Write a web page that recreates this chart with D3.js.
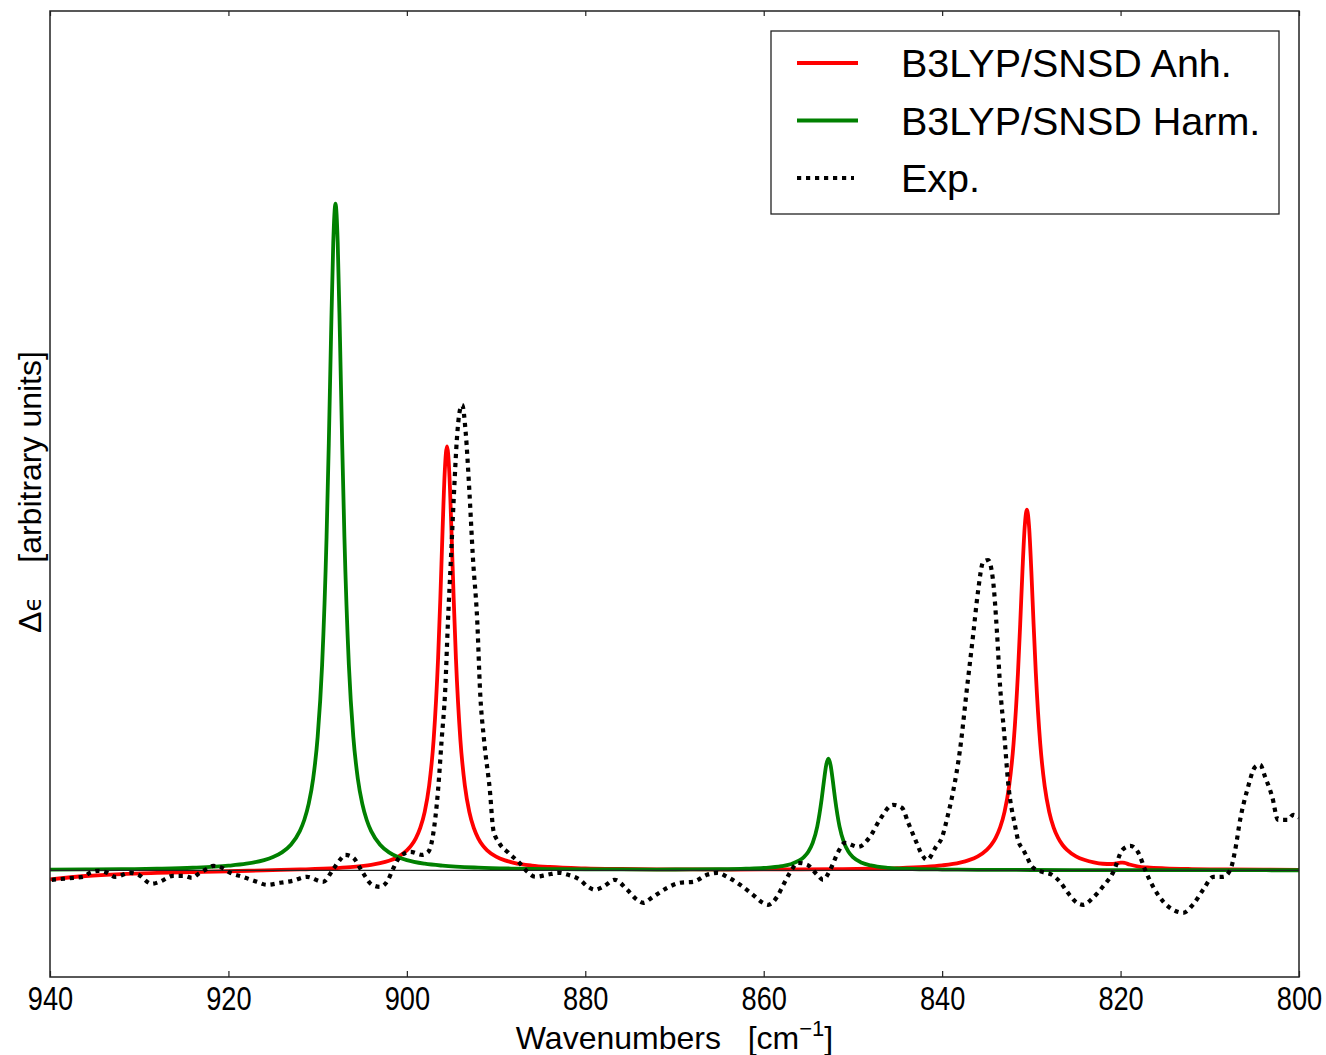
<!DOCTYPE html>
<html>
<head>
<meta charset="utf-8">
<script src="https://cdnjs.cloudflare.com/ajax/libs/d3/7.8.5/d3.min.js"></script>
<style>
body { margin: 0; background: #fff; }
svg { display: block; font-family: "Liberation Sans", Arial, Helvetica, sans-serif; }
</style>
</head>
<body>
<script>

/***** spectra (wavenumber in cm-1, delta eps in arbitrary units) *****/

// B3LYP/SNSD anharmonic
var anhWn = [940, 936, 932, 928, 924, 920, 916, 912, 908, 906, 904, 903,
    902, 901, 900, 899.5, 899, 898.5, 898, 897.5, 897, 896.5, 896.25, 896,
    895.75, 895.5, 895.25, 895, 894.75, 894.5, 894, 893.5, 893, 892.5, 892, 891.5,
    891, 890, 889, 888, 886, 884, 880, 876, 872, 868, 864, 860,
    856, 852, 848, 845, 842, 840, 838, 837, 836, 835, 834.5, 834,
    833.5, 833, 832.5, 832, 831.5, 831.25, 831, 830.75, 830.5, 830.25, 830, 829.75,
    829.5, 829, 828.5, 828, 827.5, 827, 826.5, 826, 825, 824, 823, 822,
    821, 820.5, 820, 819.75, 819.5, 819, 818, 817, 815, 812, 808, 804, 800];
var anhVal = [-0.0135, -0.0085, -0.0056, -0.0039, -0.0026, -0.0014, 0.0000, 0.0013, 0.0033, 0.0051, 0.0082, 0.0107,
    0.0143, 0.0200, 0.0299, 0.0374, 0.0480, 0.0636, 0.0877, 0.1272, 0.1957, 0.3180, 0.4070, 0.5088,
    0.5986, 0.6360, 0.5986, 0.5088, 0.4070, 0.3180, 0.1957, 0.1272, 0.0877, 0.0636, 0.0480, 0.0374,
    0.0300, 0.0206, 0.0149, 0.0113, 0.0072, 0.0050, 0.0029, 0.0020, 0.0015, 0.0013, 0.0012, 0.0013,
    0.0014, 0.0018, 0.0024, 0.0033, 0.0051, 0.0074, 0.0116, 0.0153, 0.0210, 0.0307, 0.0382, 0.0488,
    0.0643, 0.0880, 0.1258, 0.1894, 0.2964, 0.3695, 0.4484, 0.5144, 0.5410, 0.5144, 0.4484, 0.3693,
    0.2962, 0.1892, 0.1256, 0.0878, 0.0641, 0.0486, 0.0380, 0.0307, 0.0210, 0.0154, 0.0119, 0.0099,
    0.0095, 0.0103, 0.0115, 0.0116, 0.0110, 0.0087, 0.0057, 0.0043, 0.0029, 0.0019, 0.0013, 0.0009, 0.0007];

// B3LYP/SNSD harmonic
var harmWn = [940, 936, 932, 928, 924, 920, 918, 916, 915, 914, 913, 912,
    911.5, 911, 910.5, 910, 909.5, 909, 908.75, 908.5, 908.25, 908, 907.75, 907.5,
    907.25, 907, 906.5, 906, 905.5, 905, 904.5, 904, 903, 902, 901, 900,
    898, 896, 892, 888, 884, 880, 876, 872, 868, 865, 862, 860,
    858, 857, 856, 855.5, 855, 854.5, 854, 853.5, 853.25, 853, 852.75, 852.5,
    852.25, 852, 851.5, 851, 850.5, 850, 849, 848, 846, 844, 840, 836,
    830, 824, 816, 808, 800];
var harmVal = [0.0010, 0.0013, 0.0017, 0.0025, 0.0039, 0.0069, 0.0099, 0.0154, 0.0200, 0.0270, 0.0385, 0.0588,
    0.0755, 0.1000, 0.1379, 0.2000, 0.3077, 0.5000, 0.6400, 0.8000, 0.9412, 1.0000, 0.9412, 0.8000,
    0.6400, 0.5000, 0.3077, 0.2000, 0.1379, 0.1000, 0.0755, 0.0588, 0.0385, 0.0270, 0.0200, 0.0154,
    0.0100, 0.0070, 0.0040, 0.0026, 0.0019, 0.0015, 0.0013, 0.0012, 0.0013, 0.0016, 0.0024, 0.0035,
    0.0062, 0.0092, 0.0148, 0.0199, 0.0279, 0.0415, 0.0656, 0.1073, 0.1340, 0.1576, 0.1674, 0.1575,
    0.1339, 0.1072, 0.0655, 0.0414, 0.0278, 0.0198, 0.0114, 0.0074, 0.0038, 0.0024, 0.0012, 0.0008,
    0.0005, 0.0003, 0.0002, 0.0002, 0.0001];

// experiment
var expWn = [939.8, 937.4, 936.3, 935.5, 934.6, 933.6, 932.7, 931.0, 930.1, 928.6, 927.7, 926.2,
    925.1, 924.1, 923.2, 922.4, 921.7, 920.7, 919.8, 918.4, 916.8, 915.7, 914.2, 912.8,
    911.2, 909.4, 908.3, 907.5, 906.9, 906.0, 905.0, 903.9, 903.0, 902.1, 901.6, 900.7,
    899.6, 898.3, 897.6, 897.1, 896.5, 896.1, 895.7, 895.4, 895.05, 894.7, 894.4, 894.05,
    893.8, 893.4, 893.0, 892.6, 892.1, 891.8, 891.35, 890.7, 890.3, 889.7, 888.6, 887.3,
    886.5, 885.6, 884.3, 883.0, 881.9, 880.6, 879.7, 878.9, 878.0, 876.7, 875.3, 874.2,
    873.5, 872.4, 870.8, 869.4, 867.9, 866.35, 865.2, 864.1, 862.65, 861.2, 860.1, 859.5,
    858.5, 857.8, 857.0, 856.15, 855.1, 854.0, 853.35, 852.55, 851.65, 850.9, 849.4, 848.1,
    847.0, 845.5, 844.5, 843.8, 843.0, 842.25, 841.7, 840.7, 840.0, 839.4, 838.8, 838.0,
    837.2, 836.5, 836.0, 835.4, 834.85, 834.3, 833.85, 833.5, 833.05, 832.6, 831.8, 831.5,
    830.9, 830.5, 829.9, 828.8, 827.7, 826.8, 825.9, 824.9, 824.2, 823.1, 822.0, 820.8,
    819.8, 818.9, 818.0, 817.25, 816.35, 815.2, 814.1, 813.0, 811.9, 810.75, 809.6, 808.5,
    807.7, 807.15, 806.6, 805.8, 804.9, 804.35, 803.8, 803.0, 802.35, 801.3, 800.65, 800.0];
var expVal = [-0.0142, -0.0112, -0.0097, -0.0037, -0.0007, -0.0037, -0.0097, -0.0037, -0.0067, -0.0202, -0.0172, -0.0082,
    -0.0082, -0.0112, -0.0037, 0.0022, 0.0067, 0.0037, -0.0037, -0.0097, -0.0172, -0.0217, -0.0187, -0.0157,
    -0.0097, -0.0172, 0.0007, 0.0157, 0.0232, 0.0187, -0.0022, -0.0217, -0.0247, -0.0142, 0.0007, 0.0215,
    0.0277, 0.0232, 0.0277, 0.0502, 0.1207, 0.1957, 0.2706, 0.3711, 0.4700, 0.5705, 0.6455, 0.6904,
    0.6979, 0.6559, 0.5705, 0.4700, 0.3711, 0.2706, 0.1957, 0.1207, 0.0600, 0.0420, 0.0262, 0.0100,
    -0.0022, -0.0097, -0.0067, -0.0037, -0.0067, -0.0142, -0.0247, -0.0292, -0.0247, -0.0142, -0.0292, -0.0442,
    -0.0487, -0.0397, -0.0262, -0.0187, -0.0172, -0.0067, -0.0037, -0.0097, -0.0217, -0.0367, -0.0487, -0.0517,
    -0.0397, -0.0217, -0.0022, 0.0112, 0.0082, -0.0067, -0.0142, 0.0007, 0.0277, 0.0412, 0.0352, 0.0502,
    0.0757, 0.0982, 0.0937, 0.0712, 0.0457, 0.0232, 0.0157, 0.0350, 0.0502, 0.0802, 0.1162, 0.1806,
    0.2751, 0.3561, 0.4160, 0.4625, 0.4655, 0.4355, 0.3561, 0.2751, 0.2061, 0.1312, 0.0652, 0.0457,
    0.0307, 0.0202, 0.0052, -0.0022, -0.0067, -0.0172, -0.0337, -0.0487, -0.0517, -0.0412, -0.0247, -0.0022,
    0.0307, 0.0367, 0.0262, 0.0007, -0.0247, -0.0472, -0.0592, -0.0637, -0.0517, -0.0292, -0.0097, -0.0097,
    0.0007, 0.0307, 0.0757, 0.1207, 0.1552, 0.1582, 0.1402, 0.1102, 0.0757, 0.0757, 0.0832, 0.0790];

var xTicks = [940, 920, 900, 880, 860, 840, 820, 800];
var seriesNames = ["B3LYP/SNSD Anh.", "B3LYP/SNSD Harm.", "Exp."];
var seriesColors = ["#ff0000", "#008000", "#000000"];

/*************************************************/

var width = 1326,
    height = 1055,
    plotLeft = 50,
    plotRight = 1299,
    plotTop = 11,
    plotBottom = 977,
    lineW = 3.8,
    dotW = 4.2,
    dots = "4.2 4.8";

var x = d3.scaleLinear()
    .domain([940, 800])
    .range([plotLeft, plotRight]);

var y = d3.scaleLinear()
    .domain([-0.16, 1.289])
    .range([plotBottom, plotTop]);

var svg = d3.select("body").append("svg")
    .attr("width", width)
    .attr("height", height);

svg.append("clipPath")
    .attr("id", "plotClip")
    .append("rect")
    .attr("x", plotLeft)
    .attr("y", plotTop)
    .attr("width", plotRight - plotLeft)
    .attr("height", plotBottom - plotTop);

// helper: zip two arrays into points
function zip(a, b) {
    return a.map(function (d, i) { return [d, b[i]]; });
}

var line = d3.line()
    .x(function (d) { return x(d[0]); })
    .y(function (d) { return y(d[1]); })
    .curve(d3.curveMonotoneX);

var plot = svg.append("g").attr("clip-path", "url(#plotClip)");

plot.append("path")
    .datum(zip(anhWn, anhVal))
    .attr("d", line)
    .attr("fill", "none")
    .attr("stroke", seriesColors[0])
    .attr("stroke-width", lineW)
    .attr("stroke-linejoin", "round");

plot.append("path")
    .datum(zip(harmWn, harmVal))
    .attr("d", line)
    .attr("fill", "none")
    .attr("stroke", seriesColors[1])
    .attr("stroke-width", lineW)
    .attr("stroke-linejoin", "round");

// zero line
plot.append("line")
    .attr("x1", plotLeft)
    .attr("x2", plotRight)
    .attr("y1", y(0))
    .attr("y2", y(0))
    .attr("stroke", "#222")
    .attr("stroke-width", 1.3);

plot.append("path")
    .datum(zip(expWn, expVal))
    .attr("d", line)
    .attr("fill", "none")
    .attr("stroke", seriesColors[2])
    .attr("stroke-width", dotW)
    .attr("stroke-dasharray", dots);

// axes: ticks pointing inward on bottom and top, no y ticks
var xAxis = d3.axisBottom(x)
    .tickValues(xTicks)
    .tickSizeInner(-6)
    .tickSizeOuter(0)
    .tickFormat(d3.format("d"));

var gx = svg.append("g")
    .attr("transform", "translate(0," + plotBottom + ")")
    .call(xAxis);
gx.select(".domain").remove();
gx.selectAll(".tick line").attr("stroke", "#222").attr("stroke-width", 1.2);
gx.selectAll(".tick text")
    .attr("y", 33)
    .attr("dy", null)
    .attr("fill", "#000")
    .attr("font-size", 34)
    .attr("font-family", "'Liberation Sans', Arial, sans-serif")
    .attr("transform", "scale(0.8,1)");

var gxTop = svg.append("g")
    .attr("transform", "translate(0," + plotTop + ")")
    .call(d3.axisTop(x).tickValues(xTicks).tickSizeInner(-5).tickSizeOuter(0).tickFormat(""));
gxTop.select(".domain").remove();
gxTop.selectAll(".tick line").attr("stroke", "#222").attr("stroke-width", 1.2);

// frame
svg.append("rect")
    .attr("x", plotLeft)
    .attr("y", plotTop)
    .attr("width", plotRight - plotLeft)
    .attr("height", plotBottom - plotTop)
    .attr("fill", "none")
    .attr("stroke", "#222")
    .attr("stroke-width", 1.5);

// axis titles
var xt = svg.append("text")
    .attr("x", (plotLeft + plotRight) / 2)
    .attr("y", 1049)
    .attr("text-anchor", "middle")
    .attr("font-size", 32);
xt.append("tspan").text("Wavenumbers\u00a0\u00a0\u00a0[cm");
xt.append("tspan").attr("font-size", 22).attr("dy", -13).text("\u22121");
xt.append("tspan").attr("dy", 13).text("]");

var yt = svg.append("text")
    .attr("transform", "translate(41,492) rotate(-90)")
    .attr("text-anchor", "middle")
    .attr("font-size", 32);
yt.append("tspan").text("\u0394");
yt.append("tspan").attr("font-family", "'DejaVu Sans', sans-serif").attr("font-size", 24).text("\u03f5");
yt.append("tspan").attr("dx", 34).text("[arbitrary units]");

// legend
var legend = svg.append("g");
legend.append("rect")
    .attr("x", 771)
    .attr("y", 31)
    .attr("width", 508)
    .attr("height", 183)
    .attr("fill", "#fff")
    .attr("stroke", "#222")
    .attr("stroke-width", 1.3);

var rows = legend.selectAll("g.row")
    .data(seriesNames)
    .enter().append("g")
    .attr("class", "row")
    .attr("transform", function (d, i) { return "translate(0," + (63 + i * 57.5) + ")"; });

rows.append("line")
    .attr("x1", 797)
    .attr("x2", function (d, i) { return i == 2 ? 854 : 858; })
    .attr("stroke", function (d, i) { return seriesColors[i]; })
    .attr("stroke-width", function (d, i) { return i == 2 ? dotW : lineW; })
    .attr("stroke-dasharray", function (d, i) { return i == 2 ? dots : null; });

rows.append("text")
    .attr("x", 901)
    .attr("y", 14)
    .attr("font-size", 39.5)
    .text(function (d) { return d; });

</script>
</body>
</html>
